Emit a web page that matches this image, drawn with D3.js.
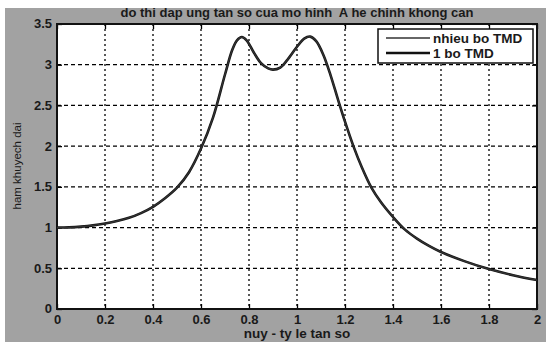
<!DOCTYPE html>
<html><head><meta charset="utf-8">
<script src="https://cdn.jsdelivr.net/npm/d3@7"></script>
<style>
html,body{margin:0;padding:0;background:#fff;}
svg{display:block;font-family:"Liberation Sans",Arial,sans-serif;}
</style></head><body>
<svg id="c" width="546" height="342"></svg>
<script>
const title = "do thi dap ung tan so cua mo hinh  A he chinh khong can";
const xLabel = "nuy - ty le tan so";
const yLabel = "ham khuyech dai";
const xTicks = [0,0.2,0.4,0.6,0.8,1,1.2,1.4,1.6,1.8,2];
const yTicks = [0,0.5,1,1.5,2,2.5,3,3.5];
const seriesNames = ["nhieu bo TMD","1 bo TMD"];
const nuy = [0,0.05,0.1,0.15,0.2,0.25,0.3,0.35,0.4,0.45,0.5,0.55,0.6,0.65,0.7,0.73,0.75,0.77,0.79,0.82,0.85,0.88,0.9,0.93,0.96,1.0,1.03,1.055,1.08,1.11,1.14,1.17,1.2,1.235,1.27,1.31,1.35,1.4,1.45,1.5,1.55,1.6,1.7,1.8,1.9,2.0];
const gainMulti = [1.0,1.003,1.012,1.027,1.05,1.08,1.12,1.178,1.255,1.36,1.49,1.68,1.97,2.35,2.88,3.18,3.30,3.34,3.30,3.15,3.02,2.955,2.94,2.965,3.06,3.22,3.32,3.345,3.29,3.12,2.87,2.58,2.30,2.0,1.74,1.49,1.31,1.13,0.975,0.865,0.775,0.70,0.585,0.49,0.415,0.355];
const gainSingle = [1.0,1.003,1.012,1.027,1.05,1.08,1.12,1.178,1.255,1.36,1.49,1.68,1.97,2.35,2.88,3.18,3.30,3.34,3.30,3.15,3.02,2.955,2.94,2.965,3.06,3.22,3.32,3.345,3.29,3.12,2.87,2.58,2.30,2.0,1.74,1.49,1.31,1.13,0.975,0.865,0.775,0.70,0.585,0.49,0.415,0.355];

const svg = d3.select("#c");
const L=57, R=537, T=24, B=309;
svg.append("rect").attr("x",5).attr("y",8).attr("width",541).attr("height",334).attr("fill","#a2a2a2");
svg.append("rect").attr("x",L).attr("y",T).attr("width",R-L).attr("height",B-T).attr("fill","#fff");

const x = d3.scaleLinear().domain([0,2]).range([L,R]);
const y = d3.scaleLinear().domain([0,3.5]).range([B,T]);

// grid
const g = svg.append("g");
g.selectAll(".vg").data(xTicks.slice(1,-1)).join("line")
 .attr("x1",d=>x(d)).attr("x2",d=>x(d)).attr("y1",T).attr("y2",B)
 .attr("stroke","#000").attr("stroke-width",1.3).attr("stroke-dasharray","2,3");
g.selectAll(".hg").data(yTicks.slice(1,-1)).join("line")
 .attr("y1",d=>y(d)).attr("y2",d=>y(d)).attr("x1",L).attr("x2",R)
 .attr("stroke","#000").attr("stroke-width",1.3).attr("stroke-dasharray","4,3");

// axes
const fontTick = "bold 13px 'Liberation Sans', Arial, sans-serif";
const ax = svg.append("g").attr("transform",`translate(0,${B})`)
 .call(d3.axisBottom(x).tickValues(xTicks).tickFormat(d3.format("")).tickSize(-5).tickPadding(6));
const ay = svg.append("g").attr("transform",`translate(${L},0)`)
 .call(d3.axisLeft(y).tickValues(yTicks).tickFormat(d3.format("")).tickSize(-5).tickPadding(5));
const axT = svg.append("g").attr("transform",`translate(0,${T})`)
 .call(d3.axisTop(x).tickValues(xTicks).tickFormat("").tickSize(-5));
const ayR = svg.append("g").attr("transform",`translate(${R},0)`)
 .call(d3.axisRight(y).tickValues(yTicks).tickFormat("").tickSize(-5));
[ax,ay,axT,ayR].forEach(a=>{
  a.select(".domain").remove();
  a.selectAll(".tick line").attr("stroke","#000").attr("stroke-width",1.3);
  a.selectAll("text").style("font",fontTick).attr("fill","#1a1a1a");
});
ay.selectAll("text").attr("dy","0.3em");
ax.selectAll("text").attr("dy","0.72em");
svg.append("rect").attr("x",L).attr("y",T).attr("width",R-L).attr("height",B-T)
 .attr("fill","none").attr("stroke","#111").attr("stroke-width",2);

// lines
const line = d3.line().x((d,i)=>x(nuy[i])).y(d=>y(d)).curve(d3.curveCatmullRom.alpha(0.5));
svg.append("path").datum(gainSingle).attr("d",line).attr("fill","none").attr("stroke","#151515").attr("stroke-width",2.6);
svg.append("path").datum(gainMulti).attr("d",line).attr("fill","none").attr("stroke","#333").attr("stroke-width",1.2);

// texts
svg.append("text").attr("x",(L+R)/2).attr("y",17).attr("text-anchor","middle")
 .style("white-space","pre")
 .style("font","bold 13px 'Liberation Sans', Arial, sans-serif").attr("fill","#1a1a1a").text(title);
svg.append("text").attr("x",(L+R)/2).attr("y",338).attr("text-anchor","middle")
 .style("font","bold 13.5px 'Liberation Sans', Arial, sans-serif").attr("fill","#1a1a1a").text(xLabel);
svg.append("text").attr("transform","translate(21,166) rotate(-90)").attr("text-anchor","middle")
 .style("font","11.5px 'Liberation Sans', Arial, sans-serif").attr("fill","#1a1a1a").text(yLabel);

// legend
const lg = svg.append("g");
lg.append("rect").attr("x",378).attr("y",29).attr("width",155).attr("height",34)
 .attr("fill","#fff").attr("stroke","#111").attr("stroke-width",1.5);
const ly = [38,53], lw=[1.3,2.4];
seriesNames.forEach((n,i)=>{
  lg.append("line").attr("x1",386).attr("x2",430).attr("y1",ly[i]).attr("y2",ly[i])
   .attr("stroke",i?"#111":"#333").attr("stroke-width",lw[i]);
  lg.append("text").attr("x",433).attr("y",ly[i]).attr("dy","0.36em")
   .style("font","bold 13.5px 'Liberation Sans', Arial, sans-serif").attr("fill","#1a1a1a").text(n);
});
</script></body></html>
